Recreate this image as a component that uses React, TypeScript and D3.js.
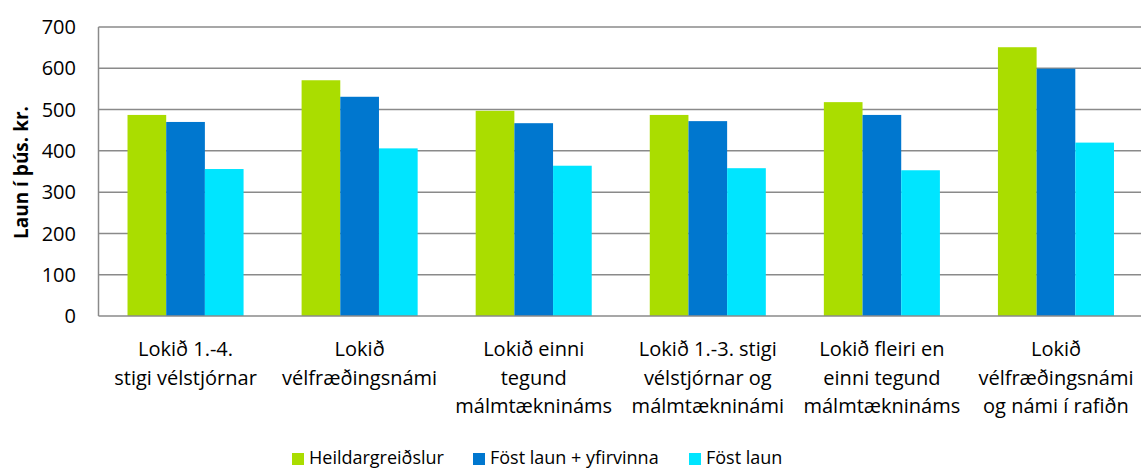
import { useEffect, useRef } from 'react';
import * as d3 from 'd3';

// category labels, already split into lines the way the chart wraps them
const categories = [
  ['Lokið 1.-4.', 'stigi vélstjórnar'],
  ['Lokið', 'vélfræðingsnámi'],
  ['Lokið einni', 'tegund', 'málmtæknináms'],
  ['Lokið 1.-3. stigi', 'vélstjórnar og', 'málmtækninámi'],
  ['Lokið fleiri en', 'einni tegund', 'málmtæknináms'],
  ['Lokið', 'vélfræðingsnámi', 'og námi í rafiðn'],
];

const seriesNames = ['Heildargreiðslur', 'Föst laun + yfirvinna', 'Föst laun'];
const seriesColors = ['#aadd00', '#0077cf', '#00e5ff'];

const heildargreidslur = [487, 571, 497, 487, 518, 651];
const fostYfirvinna = [470, 531, 467, 472, 487, 599];
const fostLaun = [356, 406, 364, 358, 353, 420];

const yTicks = [0, 100, 200, 300, 400, 500, 600, 700];

const W = 1141;
const H = 469;
const FONT = "'Open Sans', sans-serif";

export default function App() {
  const svgRef = useRef<SVGSVGElement>(null);

  useEffect(() => {
    if (!svgRef.current) return;
    const svg = d3.select(svgRef.current);
    svg.selectAll('*').remove();

    const left = 98.5, right = 1143, top = 27, bottom = 316;
    const values = [heildargreidslur, fostYfirvinna, fostLaun];

    const x0 = d3.scaleBand<number>()
      .domain(d3.range(categories.length))
      .range([left, right])
      .paddingInner(1 / 3)
      .paddingOuter(1 / 6);
    const x1 = d3.scaleBand<number>()
      .domain(d3.range(seriesNames.length))
      .range([0, x0.bandwidth()]);
    const y = d3.scaleLinear().domain([0, 700]).range([bottom, top]);

    // gridlines
    svg.append('g')
      .selectAll('line')
      .data(yTicks.filter(t => t > 0))
      .join('line')
      .attr('x1', left).attr('x2', right)
      .attr('y1', d => y(d)).attr('y2', d => y(d))
      .attr('stroke', '#8a8a8a')
      .attr('stroke-width', 1.5);

    // bars
    categories.forEach((_, ci) => {
      svg.append('g')
        .attr('transform', `translate(${x0(ci)},0)`)
        .selectAll('rect')
        .data(values.map((v, si) => ({ si, v: v[ci] })))
        .join('rect')
        .attr('x', d => x1(d.si)!)
        .attr('width', x1.bandwidth())
        .attr('y', d => y(d.v))
        .attr('height', d => bottom - y(d.v))
        .attr('fill', d => seriesColors[d.si]);
    });

    // axes lines
    svg.append('line')
      .attr('x1', left).attr('x2', left).attr('y1', top).attr('y2', bottom)
      .attr('stroke', '#8a8a8a').attr('stroke-width', 1.5);
    svg.append('line')
      .attr('x1', left).attr('x2', right).attr('y1', bottom).attr('y2', bottom)
      .attr('stroke', '#8a8a8a').attr('stroke-width', 1.5);

    // y tick labels
    svg.append('g')
      .selectAll('text')
      .data(yTicks)
      .join('text')
      .attr('x', 76)
      .attr('y', d => y(d))
      .attr('dy', '0.36em')
      .attr('text-anchor', 'end')
      .attr('font-family', FONT)
      .attr('font-size', 20)
      .attr('fill', '#000')
      .text(d => d);

    // y title
    svg.append('text')
      .attr('transform', `translate(28,${(top + bottom) / 2 + 1}) rotate(-90)`)
      .attr('text-anchor', 'middle')
      .attr('font-family', FONT)
      .attr('font-size', 19)
      .attr('font-weight', 'bold')
      .text('Laun í þús. kr.');

    // category labels
    categories.forEach((lines, ci) => {
      const cx = x0(ci)! + x0.bandwidth() / 2;
      svg.append('text')
        .attr('text-anchor', 'middle')
        .attr('font-family', FONT)
        .attr('font-size', 20)
        .selectAll('tspan')
        .data(lines)
        .join('tspan')
        .attr('x', cx)
        .attr('y', (_, i) => 356 + i * 28.5)
        .text(d => d);
    });

    // legend
    const legendX = [292, 473, 689];
    const lg = svg.append('g');
    seriesNames.forEach((name, i) => {
      lg.append('rect')
        .attr('x', legendX[i]).attr('y', 453)
        .attr('width', 12).attr('height', 12)
        .attr('fill', seriesColors[i]);
      lg.append('text')
        .attr('x', legendX[i] + 17).attr('y', 464)
        .attr('font-family', FONT)
        .attr('font-size', 18)
        .text(name);
    });
  }, []);

  return (
    <svg
      ref={svgRef}
      width={W}
      height={H}
      style={{ position: 'absolute', left: 0, top: 0, background: '#fff' }}
    />
  );
}
